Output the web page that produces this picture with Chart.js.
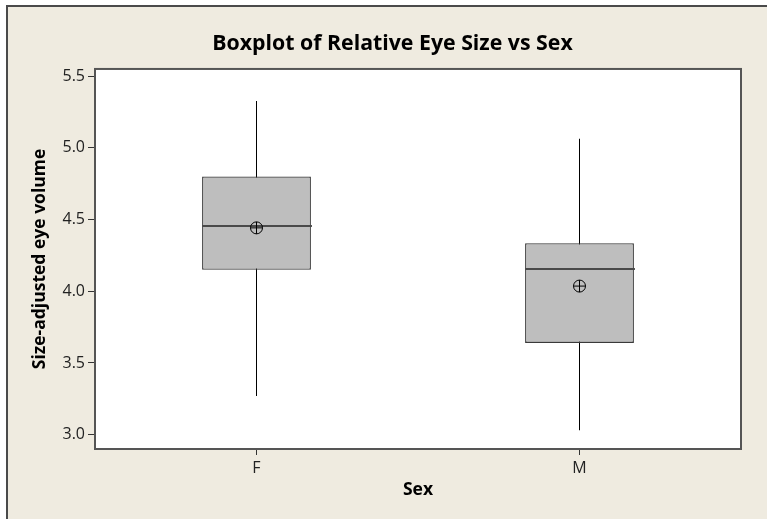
<!DOCTYPE html>
<html>
<head>
<meta charset="utf-8">
<script src="https://cdn.jsdelivr.net/npm/chart.js@4.4.0/dist/chart.umd.min.js"></script>
<style>
  body { margin: 0; background: #ffffff; }
  #frame { position: absolute; left: 6px; top: 5px; width: 761px; height: 514px;
           background: #efebe0; border-top: 2px solid #4a4a4a; border-left: 2px solid #4a4a4a; box-sizing: border-box; }
  #wrap { position: absolute; left: 0; top: 0; width: 767px; height: 519px; }
</style>
</head>
<body>
<div id="frame"></div>
<div id="wrap"><canvas id="myChart" width="767" height="519"></canvas></div>
<script>
// dati
var categorie = ['F', 'M'];
var minimi = [3.27, 3.03];
var q1 = [4.15, 3.64];
var mediane = [4.455, 4.157];
var q3 = [4.80, 4.335];
var massimi = [5.326, 5.063];
var medie = [4.442, 4.036];
var tickY = [3.0, 3.5, 4.0, 4.5, 5.0, 5.5];

var fontFam = "'Open Sans', 'DejaVu Sans', sans-serif";

// sfondo bianco, linea della mediana e cornice dell'area del grafico
var areaPlugin = {
  id: 'areaPlugin',
  beforeDatasetsDraw: function(chart) {
    var a = chart.chartArea, ctx = chart.ctx;
    ctx.save();
    ctx.fillStyle = '#ffffff';
    ctx.fillRect(a.left, a.top, a.right - a.left, a.bottom - a.top);
    ctx.restore();
  },
  afterDatasetDraw: function(chart, args) {
    if (args.index !== 1) return;
    var ctx = chart.ctx, y = chart.scales.y, x = chart.scales.x;
    var meta = chart.getDatasetMeta(1);
    ctx.save();
    ctx.strokeStyle = '#4a4a4a';
    ctx.lineWidth = 2;
    for (var i = 0; i < mediane.length; i++) {
      var cx = x.getPixelForValue(i);
      var w = meta.data[i].width / 2;
      var py = Math.round(y.getPixelForValue(mediane[i]));
      ctx.beginPath();
      ctx.moveTo(cx - w, py);
      ctx.lineTo(cx + w + 1, py);
      ctx.stroke();
    }
    ctx.restore();
  },
  afterDraw: function(chart) {
    var a = chart.chartArea, ctx = chart.ctx;
    ctx.save();
    ctx.strokeStyle = '#555555';
    ctx.lineWidth = 2;
    ctx.strokeRect(a.left, a.top, a.right - a.left, a.bottom - a.top);
    ctx.restore();
  }
};

function coppie(a, b) {
  var out = [];
  for (var i = 0; i < a.length; i++) out.push([a[i], b[i]]);
  return out;
}

var ctx = document.getElementById('myChart').getContext('2d');
var chart = new Chart(ctx, {
  type: 'bar',
  data: {
    labels: categorie,
    datasets: [
      {
        // baffi
        data: coppie(minimi, massimi),
        backgroundColor: '#000000',
        borderWidth: 0,
        barThickness: 1,
        inflateAmount: 0,
        grouped: false,
        order: 3
      },
      {
        // scatola (q1 - q3)
        data: coppie(q1, q3),
        backgroundColor: '#bebebe',
        borderColor: '#3a3a3a',
        borderWidth: 1.3,
        borderSkipped: false,
        inflateAmount: 0,
        barPercentage: 0.337,
        categoryPercentage: 1,
        grouped: false,
        order: 2
      },
      {
        // media: cerchio
        type: 'line',
        data: medie,
        showLine: false,
        pointStyle: 'circle',
        pointRadius: 6,
        pointBackgroundColor: 'rgba(0,0,0,0)',
        pointBorderColor: '#000000',
        pointBorderWidth: 1,
        order: 1
      },
      {
        // media: croce
        type: 'line',
        data: medie,
        showLine: false,
        pointStyle: 'cross',
        pointRadius: 6,
        pointBorderColor: '#000000',
        pointBorderWidth: 1,
        order: 0
      }
    ]
  },
  options: {
    responsive: false,
    animation: false,
    layout: { padding: { left: 44, right: 26, top: 0, bottom: 0 } },
    plugins: {
      legend: { display: false },
      tooltip: { enabled: false },
      title: {
        display: true,
        text: 'Boxplot of Relative Eye Size vs Sex',
        color: '#000000',
        font: { family: fontFam, size: 21.3, weight: 'bold' },
        padding: { top: 31.5, bottom: 11.9 }
      }
    },
    scales: {
      x: {
        offset: true,
        grid: { display: true, offset: false, drawOnChartArea: false, drawTicks: true, tickLength: 6, color: '#333333' },
        border: { display: false },
        ticks: { color: '#222222', padding: 4, font: { family: fontFam, size: 16 } },
        title: {
          display: true,
          text: 'Sex',
          color: '#000000',
          font: { family: fontFam, size: 17.5, weight: 'bold' },
          padding: { top: 0, bottom: 18 }
        },
        afterFit: function(scale) { scale.height = 70; }
      },
      y: {
        min: 2.9,
        max: 5.55,
        grid: { display: true, drawOnChartArea: false, drawTicks: true, tickLength: 7, color: '#333333' },
        border: { display: false },
        afterBuildTicks: function(axis) {
          axis.ticks = tickY.map(function(v) { return { value: v }; });
        },
        ticks: {
          color: '#222222',
          padding: 3,
          font: { family: fontFam, size: 16 },
          callback: function(v) { return Number(v).toFixed(1); }
        },
        title: {
          display: true,
          text: 'Size-adjusted eye volume',
          color: '#000000',
          font: { family: fontFam, size: 17.5, weight: 'bold' },
          padding: { top: -14.5, bottom: 0 }
        },
        afterFit: function(scale) { scale.width = 51; }
      }
    }
  },
  plugins: [areaPlugin]
});
</script>
</body>
</html>
